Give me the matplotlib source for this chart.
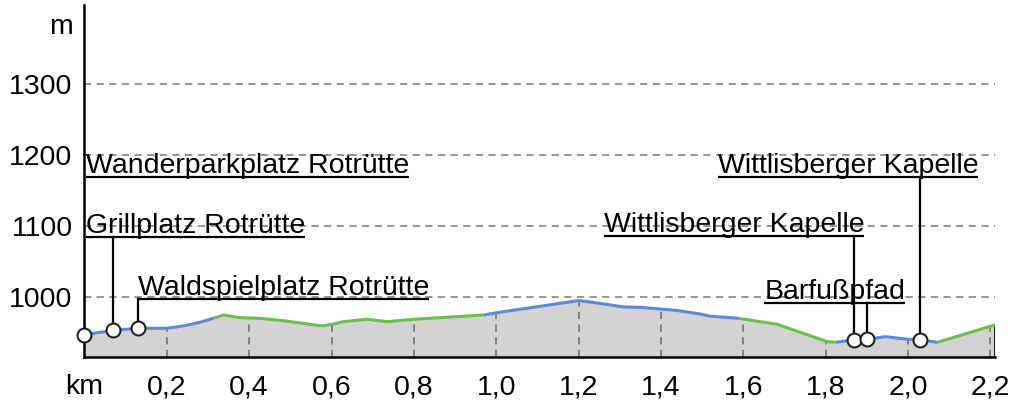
import numpy as np
import matplotlib
matplotlib.use('Agg')
from matplotlib import pyplot as plt

plt.rcParams['font.family'] = ['Liberation Sans', 'DejaVu Sans']

# elevation profile (km, m)
dist_km = [0.0, 0.069, 0.129, 0.16, 0.2, 0.24, 0.281, 0.313, 0.338, 0.354, 0.374,
           0.427, 0.483, 0.577, 0.601, 0.629, 0.686, 0.735, 0.8, 0.969,
           1.002, 1.2, 1.229, 1.31, 1.35, 1.4, 1.44, 1.496, 1.52, 1.589,
           1.682, 1.804, 1.824, 1.868, 1.9, 1.946, 1.998, 2.029, 2.071, 2.211]
elev_m = [947, 953, 956, 956, 956, 959.3, 964.5, 970, 974.7, 973.3, 971,
          970, 966.7, 959.3, 961.6, 965.3, 968.7, 965.3, 968.7, 974.7,
          978, 995, 993, 986, 985.5, 983, 981, 976, 973, 970,
          961.6, 937.2, 936.3, 939.6, 940.6, 944.2, 940.6, 939.6, 936.3, 960.7]

# track surface segments
segment_breaks = [0.0, 0.313, 0.969, 1.589, 1.824, 2.071, 2.211]
segment_colors = ['#5b8bd7', '#6cc04a', '#5b8bd7', '#6cc04a', '#5b8bd7', '#6cc04a']

# points of interest
poi_names = ['Wanderparkplatz Rotrütte', 'Grillplatz Rotrütte', 'Waldspielplatz Rotrütte',
             'Wittlisberger Kapelle', 'Barfußpfad', 'Wittlisberger Kapelle']
poi_km = [0.0, 0.069, 0.129, 1.868, 1.9, 2.029]
label_level = [1169, 1084, 997, 1086, 991, 1169]
label_start_km = [0.003, 0.003, 0.129, 1.261, 1.651, 1.538]

x_ticks = [0.0, 0.2, 0.4, 0.6, 0.8, 1.0, 1.2, 1.4, 1.6, 1.8, 2.0, 2.2]
x_tick_labels = ['km', '0,2', '0,4', '0,6', '0,8', '1,0', '1,2', '1,4', '1,6', '1,8', '2,0', '2,2']
y_ticks = [1000, 1100, 1200, 1300]

y_min, y_max = 916, 1411
x_max = 2.211
fs = 20.5

fig = plt.figure(figsize=(10.11, 4.03), dpi=100)
ax = fig.add_axes([84.4 / 1011, 1 - 356.7 / 403, (995 - 84.4) / 1011, (356.7 - 5) / 403])
ax.set_xlim(0, x_max)
ax.set_ylim(y_min, y_max)

for y in y_ticks:
    ax.axhline(y, color='#8c8c8c', lw=1.3, ls=(0, (4, 3)), zorder=0)

ax.fill_between(dist_km, y_min, elev_m, color='#d3d3d3', lw=0, zorder=1)

for t in x_ticks[1:]:
    ax.plot([t, t], [y_min, np.interp(t, dist_km, elev_m)], color='#7a7a7a',
            lw=1.3, ls=(0, (4, 3)), zorder=2)
ax.plot([x_max, x_max], [y_min, elev_m[-1]], color='#222222', lw=1.5, zorder=2)

d = np.array(dist_km)
e = np.array(elev_m)
for a, b, c in zip(segment_breaks[:-1], segment_breaks[1:], segment_colors):
    m = (d >= a - 1e-9) & (d <= b + 1e-9)
    ax.plot(d[m], e[m], color=c, lw=2.2, solid_capstyle='butt', zorder=3)

ax.spines['top'].set_visible(False)
ax.spines['right'].set_visible(False)
for s in ['left', 'bottom']:
    ax.spines[s].set_linewidth(1.8)
    ax.spines[s].set_zorder(6)

ax.set_xticks(x_ticks)
ax.set_xticklabels(x_tick_labels)
ax.set_yticks(y_ticks)
ax.set_yticklabels([str(y) for y in y_ticks])
ax.tick_params(axis='x', length=0, pad=12.5, labelsize=fs)
ax.tick_params(axis='y', length=0, pad=8.5, labelsize=fs)
ax.annotate('m', xy=(0, 1384), xytext=(-8.5, 0), textcoords='offset points',
            ha='right', va='center_baseline', fontsize=fs, annotation_clip=False)

texts = []
for name, start, lvl in zip(poi_names, label_start_km, label_level):
    t = ax.annotate(name, xy=(start, lvl), xytext=(0, 3), textcoords='offset points',
                    ha='left', va='baseline', fontsize=fs, zorder=5)
    texts.append(t)

fig.canvas.draw()
renderer = fig.canvas.get_renderer()
inv = ax.transData.inverted()
for t, start, lvl, km in zip(texts, label_start_km, label_level, poi_km):
    bb = t.get_window_extent(renderer)
    x_end = inv.transform((bb.x1, bb.y0))[0]
    ax.plot([start, x_end], [lvl, lvl], color='black', lw=1.6, zorder=5,
            solid_capstyle='butt')
    ax.plot([km, km], [lvl, np.interp(km, dist_km, elev_m)], color='black',
            lw=1.6, zorder=5)

poi_elev = np.interp(poi_km, dist_km, elev_m)
ax.plot(poi_km, poi_elev, 'o', ms=10, mfc='white', mec='#222222', mew=1.5,
        zorder=7, clip_on=False)

fig.savefig('out.png', dpi=100)
